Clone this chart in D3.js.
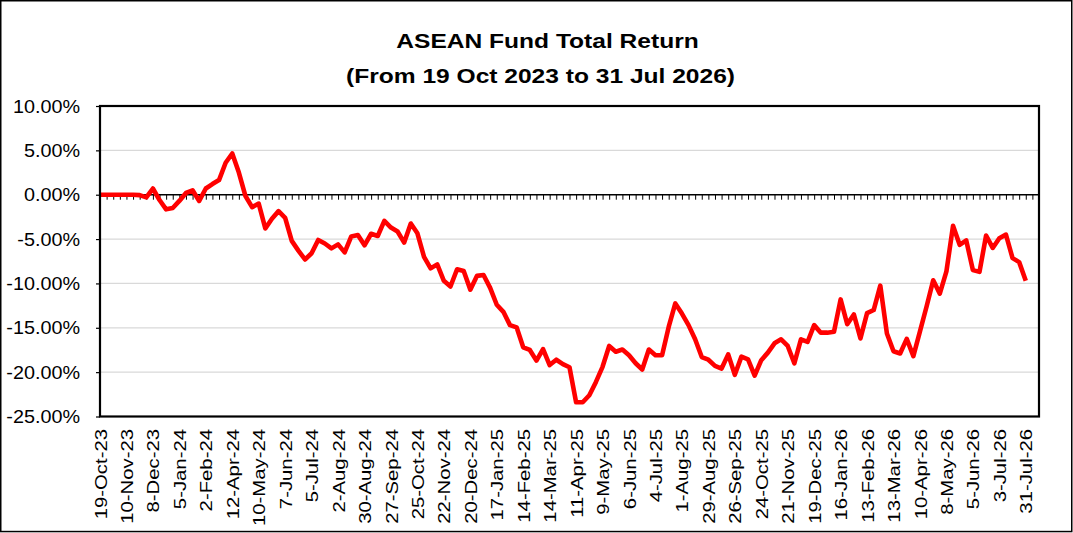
<!DOCTYPE html>
<html>
<head>
<meta charset="utf-8">
<script src="https://cdn.jsdelivr.net/npm/d3@7"></script>
<style>
  html, body { margin: 0; padding: 0; background: #fff; }
  svg { display: block; }
  text { font-family: "Liberation Sans", Arial, sans-serif; fill: #000; }
</style>
</head>
<body>
<svg id="chart" width="1073" height="533"></svg>
<script>
const titleLines = ["ASEAN Fund Total Return", "(From 19 Oct 2023 to 31 Jul 2026)"];

const tickLabels = [
  "19-Oct-23","10-Nov-23","8-Dec-23","5-Jan-24","2-Feb-24","12-Apr-24","10-May-24","7-Jun-24",
  "5-Jul-24","2-Aug-24","30-Aug-24","27-Sep-24","25-Oct-24","22-Nov-24","20-Dec-24","17-Jan-25",
  "14-Feb-25","14-Mar-25","11-Apr-25","9-May-25","6-Jun-25","4-Jul-25","1-Aug-25","29-Aug-25",
  "26-Sep-25","24-Oct-25","21-Nov-25","19-Dec-25","16-Jan-26","13-Feb-26","13-Mar-26","10-Apr-26",
  "8-May-26","5-Jun-26","3-Jul-26","31-Jul-26"
];
const labelEvery = 4;
const categoryCount = 143;

// Total return (%) per weekly observation
const values = [
  0, 0, 0, 0, 0, 0, -0.05, -0.3, 0.7, -0.6,
  -1.65, -1.5, -0.7, 0.2, 0.5, -0.7, 0.7, 1.2, 1.65, 3.6,
  4.65, 2.5, -0.15, -1.4, -1.0, -3.8, -2.7, -1.85, -2.6, -5.2,
  -6.3, -7.3, -6.6, -5.1, -5.5, -6.05, -5.6, -6.5, -4.7, -4.55,
  -5.7, -4.4, -4.65, -2.95, -3.7, -4.15, -5.4, -3.25, -4.35, -7.0,
  -8.3, -7.85, -9.7, -10.35, -8.4, -8.6, -10.7, -9.15, -9.05, -10.5,
  -12.4, -13.2, -14.7, -14.95, -17.2, -17.5, -18.7, -17.4, -19.2, -18.6,
  -19.1, -19.45, -23.4, -23.4, -22.6, -21.1, -19.4, -17.05, -17.7, -17.45,
  -18.1, -19.0, -19.7, -17.45, -18.1, -18.1, -14.9, -12.25, -13.4, -14.7,
  -16.3, -18.3, -18.6, -19.3, -19.6, -18.0, -20.3, -18.25, -18.55, -20.4,
  -18.65, -17.8, -16.75, -16.3, -17.05, -19.0, -16.3, -16.6, -14.7, -15.55,
  -15.55, -15.45, -11.8, -14.6, -13.5, -16.2, -13.35, -13.0, -10.25, -15.65,
  -17.65, -17.9, -16.25, -18.2, -15.4, -12.6, -9.65, -11.15, -8.65, -3.5,
  -5.65, -5.15, -8.5, -8.7, -4.6, -6.0, -4.9, -4.5, -7.15, -7.6,
  -9.7
];
const yTicks = [10, 5, 0, -5, -10, -15, -20, -25];

const svg = d3.select("#chart");
const W = 1073, H = 533;
const plot = { left: 100, right: 1039, top: 106, bottom: 416.5 };

// outer border
svg.append("rect")
  .attr("x", 0.75).attr("y", 0.75)
  .attr("width", W - 2).attr("height", H - 2.2)
  .attr("fill", "#fff").attr("stroke", "#000").attr("stroke-width", 1.5);

const x = d3.scaleLinear().domain([0, categoryCount - 1]).range([plot.left, plot.right]);
const y = d3.scaleLinear().domain([-25, 10]).range([plot.bottom, plot.top]);

// title
const titlePos = [{ cx: 547.5, base: 48.3 }, { cx: 540.5, base: 83.3 }];
titleLines.forEach((t, k) => {
  svg.append("text")
    .attr("transform", `translate(${titlePos[k].cx},${titlePos[k].base}) scale(1.17,1)`)
    .attr("text-anchor", "middle")
    .attr("font-size", 21)
    .attr("font-weight", "bold")
    .text(t);
});

// gridlines
svg.append("g")
  .selectAll("line")
  .data(yTicks.filter(v => v !== 0 && v !== 10 && v !== -25))
  .join("line")
  .attr("x1", plot.left).attr("x2", plot.right)
  .attr("y1", d => y(d)).attr("y2", d => y(d))
  .attr("stroke", "#d9d9d9").attr("stroke-width", 1.2);

// y axis
const yAxis = svg.append("g")
  .attr("transform", `translate(${plot.left},0)`)
  .call(d3.axisLeft(y).tickValues(yTicks).tickSize(4).tickFormat(d => d.toFixed(2) + "%"));
yAxis.select(".domain").remove();
yAxis.selectAll(".tick line").attr("stroke", "#000").attr("stroke-width", 1.2);
yAxis.selectAll(".tick text")
  .attr("x", 0).attr("dy", null)
  .attr("dominant-baseline", "central")
  .attr("transform", "translate(-20,0) scale(1.1,1)")
  .attr("font-size", 18)
  .attr("font-family", "'Liberation Sans', Arial, sans-serif")
  .attr("fill", "#000");

// zero axis with category ticks
const zeroAxis = svg.append("g")
  .attr("transform", `translate(0,${y(0)})`)
  .call(d3.axisBottom(x).tickValues(d3.range(1, categoryCount)).tickSize(5).tickFormat(""));
zeroAxis.select(".domain").attr("stroke", "#000").attr("stroke-width", 1.6)
  .attr("d", `M${plot.left},0H${plot.right}`);
zeroAxis.selectAll(".tick line").attr("stroke", "#000").attr("stroke-width", 1);

// category labels
const xAxis = svg.append("g")
  .attr("transform", `translate(0,${plot.bottom})`)
  .call(d3.axisBottom(x)
    .tickValues(d3.range(0, tickLabels.length).map(k => k * labelEvery))
    .tickSize(0)
    .tickFormat(i => tickLabels[i / labelEvery]));
xAxis.select(".domain").remove();
xAxis.selectAll(".tick text")
  .attr("x", 0).attr("y", 0).attr("dy", "0.36em")
  .attr("text-anchor", "end")
  .attr("transform", "translate(0,12.5) rotate(-90) scale(1.21,1)")
  .attr("font-size", 16.8)
  .attr("font-family", "'Liberation Sans', Arial, sans-serif")
  .attr("fill", "#000");

// series line
svg.append("path")
  .datum(values)
  .attr("fill", "none")
  .attr("stroke", "#ff0000")
  .attr("stroke-width", 4.6)
  .attr("stroke-linejoin", "round")
  .attr("stroke-linecap", "butt")
  .attr("d", d3.line().x((d, i) => x(i)).y(d => y(d)));

// plot border
svg.append("rect")
  .attr("x", plot.left).attr("y", plot.top)
  .attr("width", plot.right - plot.left).attr("height", plot.bottom - plot.top)
  .attr("fill", "none").attr("stroke", "#000").attr("stroke-width", 2.2);
</script>
</body>
</html>
